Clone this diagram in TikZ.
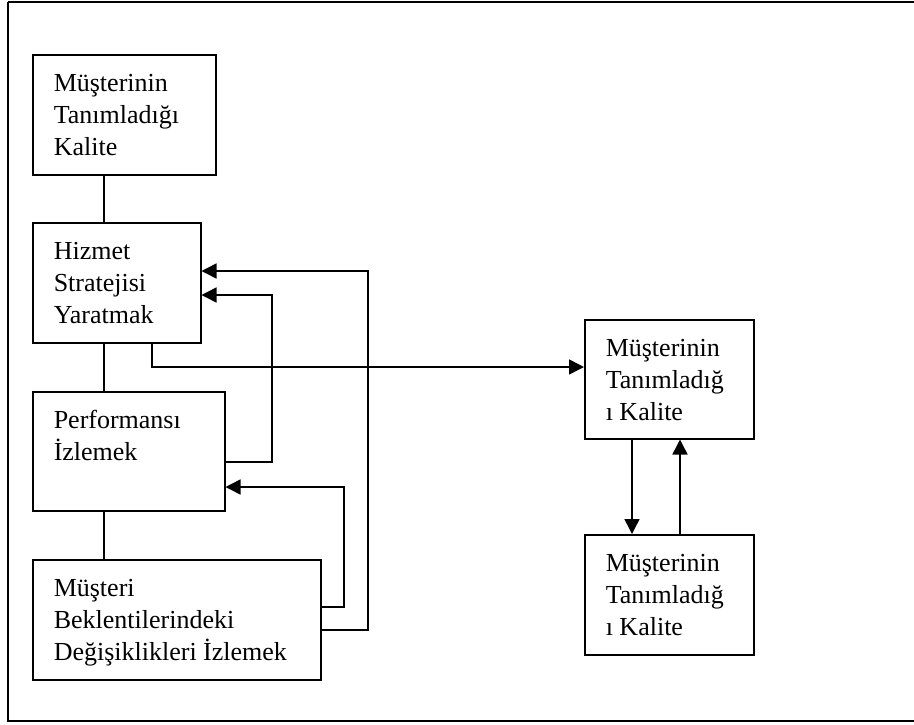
\documentclass[tikz,border=0pt]{standalone}
\usepackage{fontspec}
\setmainfont{Liberation Serif}
\usetikzlibrary{arrows.meta}

\newcommand{\blktext}[3]{\parbox[c][#2][t]{#1}{\rule{0pt}{37pt}#3}}

\tikzset{
	blk/.style={draw, line width=1.5pt, anchor=north west, inner xsep=21pt, inner ysep=0pt, align=left},
	lnk/.style={line width=1.5pt},
	arr/.style={line width=1.5pt, -{Triangle[length=15pt,width=15pt]}}
}

\begin{document}
\begin{tikzpicture}[x=1pt, y=-1pt, font=\fontsize{26}{32}\selectfont]
	\useasboundingbox (0,0) rectangle (914,724);
	\draw[line width=1.5pt] (8,2) -- (930,2) (8,2) -- (8,721) -- (930,721);
	\node[blk] (b1) at (32,54) {\blktext{141pt}{120pt}{Müşterinin\\Tanımladığı\\Kalite}};
	\node[blk] (b2) at (32,222) {\blktext{126pt}{120pt}{Hizmet\\Stratejisi\\Yaratmak}};
	\node[blk] (b3) at (32,391) {\blktext{150pt}{119pt}{Performansı\\İzlemek}};
	\node[blk] (b4) at (32,559) {\blktext{246pt}{120pt}{Müşteri\\Beklentilerindeki\\Değişiklikleri İzlemek}};
	\node[blk] (r1) at (584,319) {\blktext{127pt}{119pt}{Müşterinin\\Tanımladığ\\ı Kalite}};
	\node[blk] (r2) at (584,534) {\blktext{127pt}{120pt}{Müşterinin\\Tanımladığ\\ı Kalite}};
	\coordinate (spine) at (104,0);
	\coordinate (c2) at (152,367);
	\coordinate (c3) at (272,295);
	\coordinate (c4) at (344,487);
	\coordinate (c5) at (368,271);
	\coordinate (dn) at (632,0);
	\coordinate (up) at (680,0);
	\draw[lnk] (b1.south -| spine) -- (b2.north -| spine);
	\draw[lnk] (b2.south -| spine) -- (b3.north -| spine);
	\draw[lnk] (b3.south -| spine) -- (b4.north -| spine);
	\draw[arr] (b2.south -| c2) |- (r1.west |- c2);
	\draw[arr] (b3.east |- 0,462) -| (c3) -- (b2.east |- c3);
	\draw[arr] (b4.east |- 0,607) -| (c4) -- (b3.east |- c4);
	\draw[arr] (b4.east |- 0,630) -| (c5) -- (b2.east |- c5);
	\draw[arr] (r1.south -| dn) -- (r2.north -| dn);
	\draw[arr] (r2.north -| up) -- (r1.south -| up);
\end{tikzpicture}
\end{document}
